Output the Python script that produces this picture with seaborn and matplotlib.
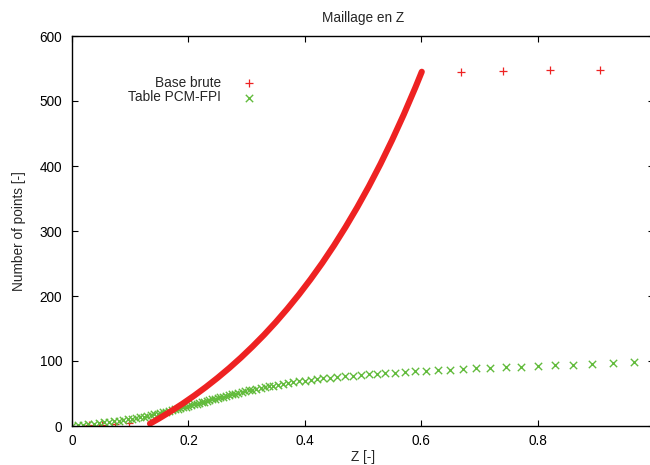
import numpy as np
import pandas as pd
import matplotlib
matplotlib.use("Agg")
import matplotlib.pyplot as plt
import seaborn as sns

# Base brute: a few points near zero, a dense curve, then a flat tail
brute_start_z = [0.030, 0.052, 0.074, 0.098]
brute_start_n = [1.5, 1.5, 2.6, 4.0]
brute_curve_z = [0.134, 0.150, 0.170, 0.190, 0.210, 0.230, 0.250, 0.270, 0.290,
                 0.310, 0.330, 0.350, 0.370, 0.390, 0.410, 0.430, 0.450, 0.470,
                 0.490, 0.510, 0.530, 0.550, 0.570, 0.590, 0.601]
brute_curve_n = [3.6, 11.8, 22.7, 34.3, 46.7, 59.9, 74.0, 89.0, 105.0,
                 122.1, 140.2, 159.6, 180.3, 202.3, 225.8, 250.8, 277.5, 306.0,
                 336.3, 368.6, 403.1, 439.9, 479.1, 520.8, 545.0]
brute_tail_z = [0.669, 0.741, 0.821, 0.908]
brute_tail_n = [545, 546, 547, 548]

# Table PCM-FPI
table_z = [0.000, 0.010, 0.019, 0.028, 0.037, 0.046, 0.055, 0.064, 0.072, 0.080,
           0.088, 0.096, 0.103, 0.110, 0.117, 0.123, 0.129, 0.135, 0.141, 0.147,
           0.152, 0.157, 0.162, 0.167, 0.172, 0.177, 0.182, 0.186, 0.191, 0.196,
           0.200, 0.205, 0.209, 0.214, 0.218, 0.223, 0.227, 0.232, 0.236, 0.241,
           0.245, 0.250, 0.255, 0.260, 0.265, 0.270, 0.275, 0.280, 0.286, 0.292,
           0.298, 0.304, 0.310, 0.317, 0.324, 0.331, 0.338, 0.346, 0.354, 0.362,
           0.371, 0.380, 0.390, 0.400, 0.410, 0.421, 0.432, 0.444, 0.456, 0.469,
           0.482, 0.496, 0.510, 0.524, 0.538, 0.555, 0.572, 0.590, 0.609, 0.629,
           0.650, 0.672, 0.695, 0.719, 0.745, 0.772, 0.801, 0.830, 0.861, 0.894,
           0.929, 0.965, 1.000]
table_n = [0.0, 1.0, 1.9, 2.8, 3.7, 4.6, 5.6, 6.6, 7.5, 8.4,
           9.3, 10.2, 11.2, 12.3, 13.5, 14.6, 15.7, 16.8, 17.9, 19.0,
           20.0, 21.0, 22.1, 23.2, 24.3, 25.4, 26.6, 27.6, 28.8, 30.0,
           31.0, 32.2, 33.2, 34.4, 35.4, 36.6, 37.6, 38.8, 39.8, 40.9,
           41.9, 43.0, 44.1, 45.2, 46.3, 47.4, 48.5, 49.6, 50.9, 52.2,
           53.5, 54.8, 56.0, 57.3, 58.6, 59.8, 61.0, 62.3, 63.6, 64.8,
           66.0, 67.3, 68.6, 70.0, 71.0, 72.1, 73.2, 74.4, 75.5, 76.6,
           77.6, 78.7, 79.6, 80.4, 81.2, 82.2, 83.2, 84.2, 85.2, 86.0,
           86.9, 87.7, 88.6, 89.5, 90.5, 91.5, 92.6, 93.6, 94.6, 95.6,
           96.8, 98.0, 99.0]

x_ticks = [0, 0.2, 0.4, 0.6, 0.8, 1.0]
x_tick_labels = ["0", "0.2", "0.4", "0.6", "0.8", ""]

red = "#ee2222"
green = "#62bb3c"

sns.set_style("ticks")
plt.rcParams["font.family"] = ["Liberation Sans", "DejaVu Sans"]
plt.rcParams["font.size"] = 9.8

fig = plt.figure(figsize=(6.5, 4.65), dpi=100)
ax = fig.add_axes([72 / 650, 39 / 465, 582 / 650, 390 / 465])

brute_pts = pd.DataFrame({
    "z": brute_start_z + brute_tail_z,
    "n": brute_start_n + brute_tail_n,
})
curve = pd.DataFrame({"z": brute_curve_z, "n": brute_curve_n})
table = pd.DataFrame({"z": table_z, "n": table_n})

# dense part of the raw base drawn as a thick band
sns.lineplot(data=curve, x="z", y="n", ax=ax, color=red, lw=4.4,
             estimator=None, sort=False, legend=False)
sns.scatterplot(data=brute_pts, x="z", y="n", ax=ax, marker="+", s=30,
                color=red, linewidth=0.9, label="Base brute")
sns.scatterplot(data=table, x="z", y="n", ax=ax, marker="x", s=28,
                color=green, linewidth=1.0, label="Table PCM-FPI")

ax.set_xlim(0, 1)
ax.set_ylim(0, 600)
ax.set_xticks(x_ticks)
ax.set_xticklabels(x_tick_labels)
ax.set_yticks(range(0, 601, 100))
ax.tick_params(direction="in", length=4, width=0.8, top=True, right=True,
               colors="black", labelsize=9.8)
ax.tick_params(axis="y", pad=7)
ax.tick_params(axis="x", pad=6)
for sp in ax.spines.values():
    sp.set_linewidth(1.0)
    sp.set_color("black")

ax.set_title("Maillage en Z", fontsize=9.8, pad=10)
ax.set_xlabel("Z [-]", fontsize=9.8, labelpad=1)
ax.set_ylabel("Number of points [-]", fontsize=9.8, labelpad=10)

leg = ax.legend(loc="upper right", bbox_to_anchor=(263 / 650, 1 - 69 / 465),
                bbox_transform=fig.transFigure, frameon=False, markerfirst=False,
                handlelength=1.0, handletextpad=1.6, labelspacing=0.05,
                borderpad=0, fontsize=9.8)

fig.savefig("out.png", dpi=100)
